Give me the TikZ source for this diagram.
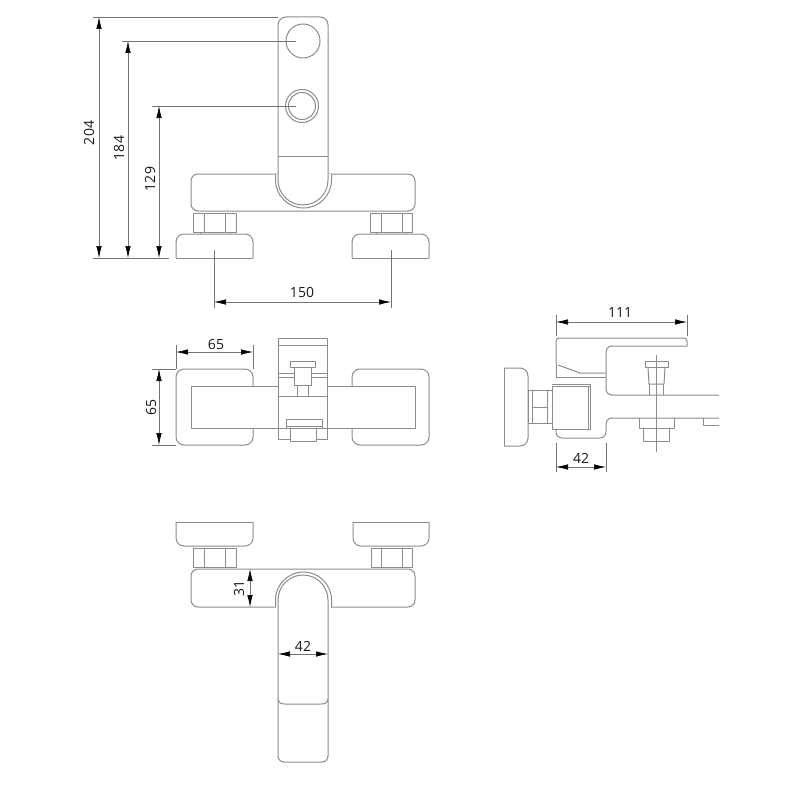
\documentclass[tikz,border=0pt]{standalone}
\usepackage{fontspec}
\setmainfont{Open Sans}
\usetikzlibrary{arrows.meta}
\tikzset{
	outline/.style={draw=black!45, line width=1pt, line join=round},
	dimline/.style={draw=black!55, line width=0.6pt},
	dimarrow/.style={draw=black!55, line width=0.6pt, {Latex[length=12pt,width=5.5pt,black]}-{Latex[length=12pt,width=5.5pt,black]}},
	dimtext/.style={text=black!90, font=\fontsize{14}{15}\selectfont, inner sep=0pt}
}

\begin{document}
\begin{tikzpicture}[x=1pt, y=-1pt]
		\useasboundingbox (0,0) rectangle (800,800);

		% top view
		\draw[outline, rounded corners=7pt] (191,174) rectangle (415,211);
		\draw[outline] (193,213) rectangle (236,232);
		\draw[outline] (204,213) -- (204,232);
		\draw[outline] (225,213) -- (225,232);
		\draw[outline] (370,213) rectangle (412,232);
		\draw[outline] (381,213) -- (381,232);
		\draw[outline] (402,213) -- (402,232);
		\draw[outline] (200,232) -- (200,234);
		\draw[outline] (230,232) -- (230,234);
		\draw[outline] (376,232) -- (376,234);
		\draw[outline] (406,232) -- (406,234);
		\draw[outline, rounded corners=8pt] (176,258) -- (176,234) -- (253,234) -- (253,258);
		\draw[outline] (176,258) -- (253,258);
		\draw[outline, rounded corners=8pt] (352,258) -- (352,234) -- (429,234) -- (429,258);
		\draw[outline] (352,258) -- (429,258);
		\draw[outline, fill=white] (275.5,174) -- (275.5,180) arc[start angle=180, end angle=0, radius=28] -- (331.5,174);
		\draw[outline, fill=white, rounded corners=8pt] (278,180) -- (278,17) -- (328,17) -- (328,180);
		\draw[outline] (278,180) arc[start angle=180, end angle=0, radius=25];
		\draw[outline] (278,156) -- (328,156);
		\draw[outline] (303,41) circle [radius=17];
		\draw[outline] (302,106) circle [radius=16.5];
		\draw[outline] (302,106) circle [radius=13.5];

		\draw[dimline] (93,17) -- (278,17);
		\draw[dimline] (122,41) -- (296,41);
		\draw[dimline] (152,106) -- (296,106);
		\draw[dimline] (93,258) -- (169,258);
		\draw[dimarrow] (99,17) -- (99,258);
		\draw[dimarrow] (128,41) -- (128,258);
		\draw[dimarrow] (159,106) -- (159,258);
		\node[dimtext, rotate=90] (lblA) at (89,133) {204};
		\node[dimtext, rotate=90] (lblB) at (119,148) {184};
		\node[dimtext, rotate=90] (lblC) at (150,179) {129};
		\draw[dimline] (214,250) -- (214,308);
		\draw[dimline] (391,250) -- (391,308);
		\draw[dimarrow] (214,302) -- (391,302);
		\node[dimtext] (lblD) at (302,292) {150};

		% plan view
		\draw[outline, rounded corners=8pt] (176,369) rectangle (253,445);
		\draw[outline, rounded corners=8pt] (352,369) rectangle (429,445);
		\draw[outline, fill=white] (191,386) rectangle (278,428);
		\draw[outline, fill=white] (327,386) rectangle (415,428);
		\draw[outline, fill=white] (278,338) rectangle (327,439);
		\draw[outline] (278,345) -- (327,345);
		\draw[outline] (278,373) -- (294,373);
		\draw[outline] (311,373) -- (327,373);
		\draw[outline] (278,377) -- (294,377);
		\draw[outline] (311,377) -- (327,377);
		\draw[outline] (278,396) -- (327,396);
		\draw[outline] (290,361) rectangle (315,367);
		\draw[outline] (294,367) rectangle (311,385);
		\draw[outline] (297,385) rectangle (308,396);
		\draw[outline, fill=white] (286,419) rectangle (322,428);
		\draw[outline] (286,426) -- (322,426);
		\draw[outline, fill=white] (290,428) rectangle (316,441);
		\draw[outline] (278,428) -- (286,428);
		\draw[outline] (322,428) -- (327,428);

		\draw[dimline] (176,345) -- (176,369);
		\draw[dimline] (253,345) -- (253,369);
		\draw[dimarrow] (176,352) -- (253,352);
		\node[dimtext] (lblE) at (216,344) {65};
		\draw[dimline] (152,369) -- (176,369);
		\draw[dimline] (152,445) -- (176,445);
		\draw[dimarrow] (159,369) -- (159,445);
		\node[dimtext, rotate=90] (lblF) at (151,407) {65};

		% side view
		\draw[outline, rounded corners=3pt] (556,363) -- (556,338) -- (687,338) -- (687,346);
		\draw[outline, rounded corners=6pt] (687,346) -- (606,346) -- (606,395) -- (719,395);
		\draw[outline, rounded corners=6pt] (719,418) -- (606,418) -- (606,438) -- (556,438) -- (556,429);
		\draw[outline] (558,365) -- (580,373) -- (606,373);
		\draw[outline] (556,363) -- (556,377) -- (606,377);
		\draw[outline, fill=white] (552,386) rectangle (590,429);
		\draw[outline] (588,386) -- (588,429);
		\draw[outline] (552,384) -- (590,384) -- (590,386);
		\draw[outline] (528,390) rectangle (552,423);
		\draw[outline] (532,390) -- (532,423);
		\draw[outline] (547,390) -- (547,423);
		\draw[outline] (532,407) -- (547,407);
		\draw[outline, rounded corners=8pt] (504,368) -- (528,368) -- (528,446) -- (504,446);
		\draw[outline] (504,368) -- (504,446);
		\draw[outline] (645,361) rectangle (668,367);
		\draw[outline] (648,367) -- (649,384) -- (664,384) -- (665,367);
		\draw[outline] (649,384) -- (649,395);
		\draw[outline] (663,384) -- (663,395);
		\draw[outline] (656,355) -- (656,452);
		\draw[outline] (639,418) -- (639,428) -- (674,428) -- (674,418);
		\draw[outline] (643,428) -- (643,441) -- (669,441) -- (669,428);
		\draw[outline] (703,418) -- (703,425) -- (719,425);

		\draw[dimline] (556,315) -- (556,336);
		\draw[dimline] (687,315) -- (687,336);
		\draw[dimarrow] (556,322) -- (687,322);
		\node[dimtext] (lblG) at (620,312) {111};
		\draw[dimline] (556,443) -- (556,472);
		\draw[dimline] (606,443) -- (606,472);
		\draw[dimarrow] (556,467) -- (606,467);
		\node[dimtext] (lblH) at (581,458) {42};

		% front view
		\draw[outline, rounded corners=8pt] (176,522) -- (176,546) -- (253,546) -- (253,522);
		\draw[outline] (176,522) -- (253,522);
		\draw[outline, rounded corners=8pt] (353,522) -- (353,546) -- (429,546) -- (429,522);
		\draw[outline] (353,522) -- (429,522);
		\draw[outline] (193,548) rectangle (236,567);
		\draw[outline] (204,548) -- (204,567);
		\draw[outline] (225,548) -- (225,567);
		\draw[outline] (371,548) rectangle (412,567);
		\draw[outline] (381,548) -- (381,567);
		\draw[outline] (402,548) -- (402,567);
		\draw[outline, rounded corners=7pt] (191,569) rectangle (415,607);
		\draw[outline, fill=white] (275.5,607) -- (275.5,600) arc[start angle=180, end angle=360, radius=28] -- (331.5,607);
		\draw[draw=none, fill=white] (276,606) rectangle (331,608.5);
		\draw[outline, fill=white, rounded corners=6pt] (278,600) -- (278,762) -- (328,762) -- (328,600);
		\draw[outline] (278,600) arc[start angle=180, end angle=360, radius=25];
		\draw[outline] (278,699) .. controls (279,703) and (281,704) .. (285,704) -- (321,704) .. controls (325,704) and (327,703) .. (328,699);

		\draw[dimarrow] (250,569) -- (250,607);
		\node[dimtext, rotate=90] (lblI) at (239,588) {31};
		\draw[dimarrow] (278,654) -- (328,654);
		\node[dimtext] (lblJ) at (303,646) {42};
	\end{tikzpicture}
\end{document}
